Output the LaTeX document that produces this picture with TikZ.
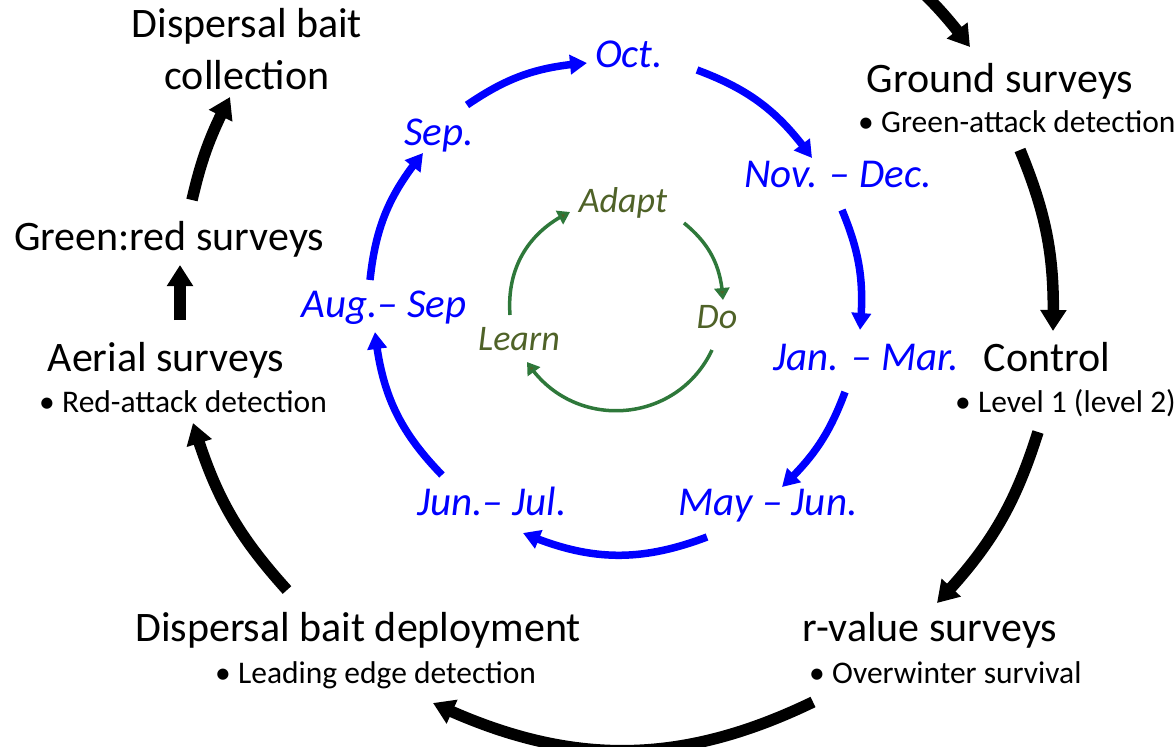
\documentclass[tikz,border=0pt]{standalone}
\usepackage{fontspec}
\setmainfont{Carlito}
\usetikzlibrary{arrows.meta,bending}
\definecolor{cycleblue}{RGB}{0,0,255}
\definecolor{loopgreen}{RGB}{46,120,58}
\definecolor{olivetext}{RGB}{79,98,40}
\newcommand{\bul}[1]{\makebox[23pt][l]{\textbullet}#1}

\begin{document}
\begin{tikzpicture}[x=1pt,y=-1pt,
  stage/.style={font=\fontsize{42}{52}\selectfont, inner sep=0pt, anchor=base, align=center},
  detail/.style={font=\fontsize{31.5}{38}\selectfont, inner sep=0pt, anchor=base west},
  month/.style={font=\fontsize{41}{48}\selectfont\itshape, text=cycleblue, inner sep=0pt, anchor=base},
  phase/.style={font=\fontsize{36}{42}\selectfont\itshape, text=olivetext, inner sep=0pt, anchor=base},
  outer/.style={line width=11.5pt, -{Triangle[length=21pt,width=25pt]}},
  inner/.style={line width=7.5pt, cycleblue, -{Triangle[length=17pt,width=19pt]}},
  core/.style={line width=3.5pt, loopgreen, -{Triangle[length=12pt,width=15pt,fill=olivetext]}},
]
\useasboundingbox (0,0) rectangle (1176,747);

% management activities (outer ring); a two-line node sits on its last baseline
\node[stage] (collect) at (247,89) {Dispersal bait\\collection};
\node[stage] (greenred) at (169,250) {Green:red surveys};
\node[stage] (aerial) at (166,371) {Aerial surveys};
\node[detail] (aerialnote) at (39,412) {\bul{Red-attack detection}};
\node[stage] (deploy) at (358,641) {Dispersal bait deployment};
\node[detail] (deploynote) at (215,683) {\bul{Leading edge detection}};
\node[stage] (rvalue) at (930,641) {r-value surveys};
\node[detail] (rvaluenote) at (809,683) {\bul{Overwinter survival}};
\node[stage] (control) at (1047,371) {Control};
\node[detail] (controlnote) at (955,412) {\bul{Level 1 (level 2)}};
\node[stage] (ground) at (1000,92) {Ground surveys};
\node[detail] (groundnote) at (858,132) {\bul{Green-attack detection}};

% months (middle ring)
\node[month] (oct) at (629,67) {Oct.};
\node[month] (sep) at (439,145) {Sep.};
\node[month] (novdec) at (838,187) {Nov. – Dec.};
\node[month] (janmar) at (866,370) {Jan. – Mar.};
\node[month] (mayjun) at (768,515) {May – Jun.};
\node[month] (junjul) at (492,515) {Jun.– Jul.};
\node[month] (augsep) at (384,317) {Aug.– Sep};

% adaptive loop (inner ring)
\node[phase] (adapt) at (623,212) {Adapt};
\node[phase] (do) at (717,328) {Do};
\node[phase] (learn) at (519,350) {Learn};

% outer ring arrow ends
\coordinate (o1s) at (867,-51);   \coordinate (o1e) at (970,47);
\coordinate (o2s) at (1020,150);  \coordinate (o2e) at (1053,331);
\coordinate (o3s) at (1038,432);  \coordinate (o3e) at (937,603);
\coordinate (o4s) at (813,702);   \coordinate (o4e) at (433,703);
\coordinate (o5s) at (287,590);   \coordinate (o5e) at (193,423);
\coordinate (o6s) at (180,320);   \coordinate (o6e) at (180,265);
\coordinate (o7s) at (192,200);   \coordinate (o7e) at (230,97);

\draw[outer] (o1s) to[bend left=9.4] (o1e);
\draw[outer] (o2s) to[bend left=12] (o2e);
\draw[outer] (o3s) to[bend left=13] (o3e);
\draw[outer] (o4s) to[bend left=25.6] (o4e);
\draw[outer] (o5s) to[bend left=12.7] (o5e);
\draw[outer] (o6s) -- (o6e);
\draw[outer] (o7s) to[bend left=7.2] (o7e);

% middle ring arrow ends
\coordinate (m1s) at (467,105);  \coordinate (m1e) at (587,63);
\coordinate (m2s) at (697,70);   \coordinate (m2e) at (812,158);
\coordinate (m3s) at (842,210);  \coordinate (m3e) at (860,330);
\coordinate (m4s) at (845,392);  \coordinate (m4e) at (782,487);
\coordinate (m5s) at (707,537);  \coordinate (m5e) at (523,533);
\coordinate (m6s) at (442,475);  \coordinate (m6e) at (375,332);
\coordinate (m7s) at (370,280);  \coordinate (m7e) at (423,153);

\draw[inner] (m1s) to[bend left=15] (m1e);
\draw[inner] (m2s) to[bend left=17] (m2e);
\draw[inner] (m3s) to[bend left=14] (m3e);
\draw[inner] (m4s) to[bend left=13] (m4e);
\draw[inner] (m5s) to[bend left=22] (m5e);
\draw[inner] (m6s) to[bend left=19] (m6e);
\draw[inner] (m7s) to[bend left=16.5] (m7e);

% inner loop arrow ends
\coordinate (c1s) at (510,315);  \coordinate (c1e) at (570,212);
\coordinate (c2s) at (684,223);  \coordinate (c2e) at (723,300);
\coordinate (c3s) at (712,350);  \coordinate (c3e) at (527,362);

\draw[core] (c1s) to[bend left=34.5] (c1e);
\draw[core] (c2s) to[bend left=23.8] (c2e);
\draw[core] (c3s) to[bend left=61, looseness=1.15] (c3e);
\end{tikzpicture}
\end{document}
